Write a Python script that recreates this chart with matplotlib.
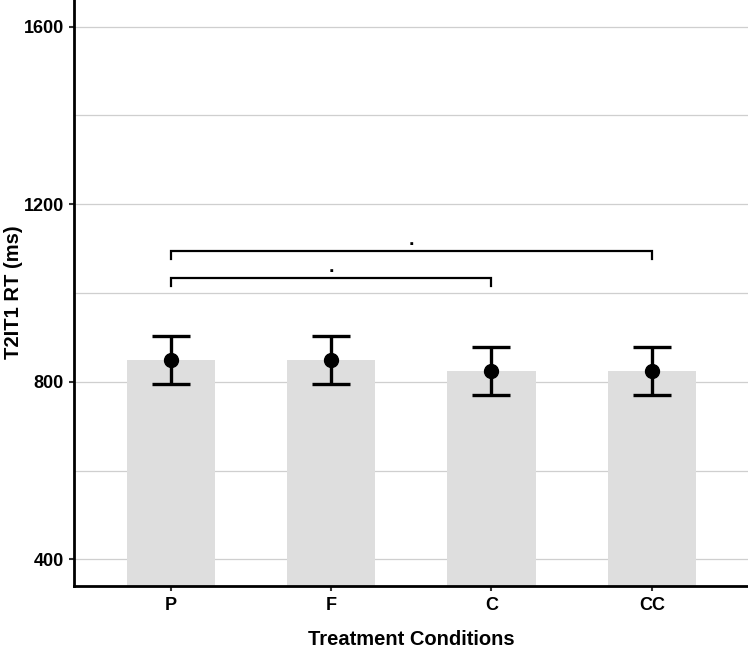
import matplotlib
matplotlib.use("Agg")
import matplotlib.pyplot as plt
import numpy as np

categories = ["P", "F", "C", "CC"]
means = [850, 849, 825, 825]
se = [54, 54, 54, 54]
yticks = [400, 800, 1200, 1600]
minor_grid = [600, 1000, 1400]
# significance brackets: (start index, end index, height, label)
brackets = [(0, 2, 1035, "."), (0, 3, 1095, ".")]

plt.rcParams['font.family'] = ['Liberation Sans', 'DejaVu Sans']

fig = plt.figure(figsize=(7.48, 6.48), dpi=100)
ax = fig.add_axes([0.0995, 0.0955, 0.9005, 0.9045])

x = np.arange(1, len(categories) + 1)
for g in yticks + minor_grid:
    ax.axhline(g, color="#cfcfcf", lw=0.9, zorder=0)
ax.bar(x, means, width=0.55, color="#dedede", zorder=1, bottom=0)
ax.errorbar(x, means, yerr=se, fmt="o", color="black", ms=10,
            elinewidth=2.4, capsize=14, capthick=2.4, zorder=3)

for i0, i1, h, lab in brackets:
    xa, xb = x[i0], x[i1]
    ax.plot([xa, xa, xb, xb], [h - 19, h, h, h - 19], color="black", lw=1.6,
            zorder=3, solid_joinstyle="miter")
    ax.text((xa + xb) / 2, h + 4, lab, ha="center", va="bottom",
            fontsize=14, fontweight="bold")

ax.set_xlim(0.4, 4.6)
ax.set_ylim(340, 1660)
ax.set_xticks(x)
ax.set_xticklabels(categories, fontsize=13, fontweight="bold")
ax.set_yticks(yticks)
ax.set_yticklabels([str(t) for t in yticks], fontsize=13, fontweight="bold")
ax.tick_params(axis="both", length=3.6, width=1.5, color="#333333", pad=4)
for s in ["top", "right"]:
    ax.spines[s].set_visible(False)
for s in ["left", "bottom"]:
    ax.spines[s].set_linewidth(2)
ax.set_xlabel("Treatment Conditions", fontsize=14.5, fontweight="bold", labelpad=12)
fig.text(14 / 748, 1 - 292 / 648, "T2IT1 RT (ms)", rotation=90, ha="center",
         va="center", fontsize=14.5, fontweight="bold")

fig.savefig("out.png", dpi=100)
